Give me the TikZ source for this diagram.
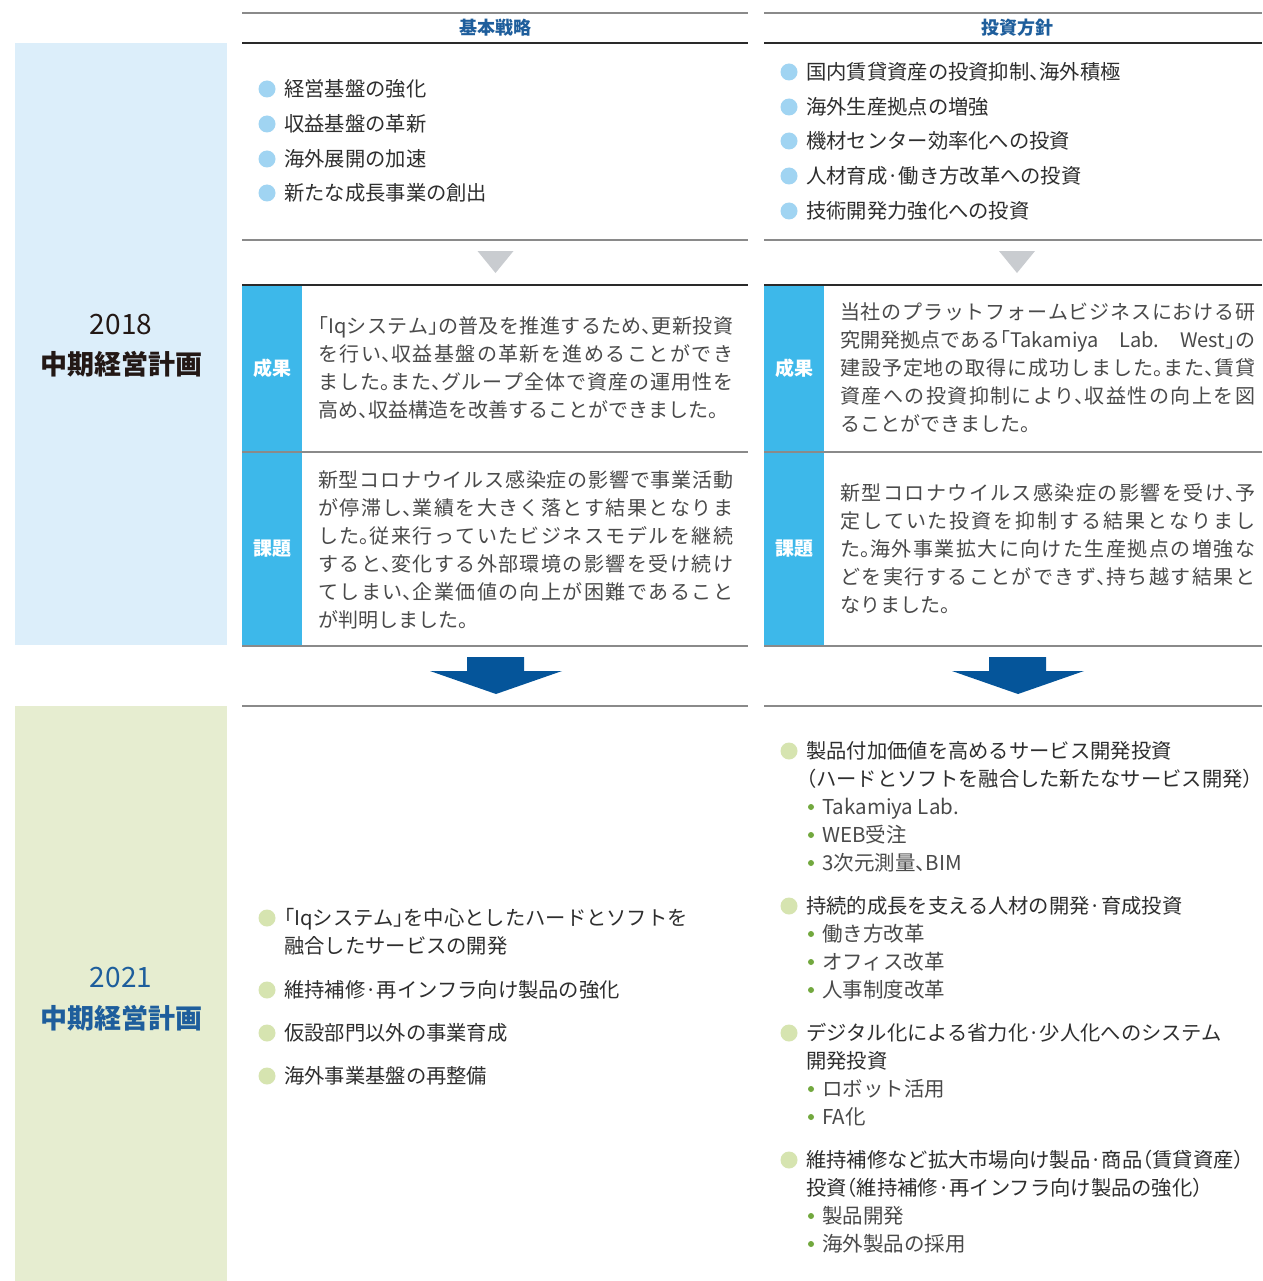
\documentclass[tikz,border=0pt]{standalone}
\usepackage{fontspec}
\setmainfont{Noto Sans CJK JP}
\newfontfamily\halffont{Noto Sans CJK JP}[RawFeature=+halt]
\newcommand\hp[1]{{\halffont #1}}
\setlength{\parindent}{0pt}
\XeTeXlinebreaklocale "ja"
\XeTeXlinebreakskip=0pt plus 4pt minus 0.4pt
\definecolor{hdrblue}{HTML}{1E5E9C}
\definecolor{arrowblue}{HTML}{05559A}
\definecolor{cyanbox}{HTML}{3DB8EA}
\definecolor{dotblue}{HTML}{A0D4F2}
\definecolor{dotgreen}{HTML}{D6E4B0}
\definecolor{subdot}{HTML}{72A83E}
\definecolor{panelblue}{HTML}{DCEEFA}
\definecolor{panelgreen}{HTML}{E6EDD0}
\definecolor{linegray}{HTML}{8A8A8A}
\definecolor{linedark}{HTML}{2A2A2A}
\definecolor{trigray}{HTML}{C9CCD0}
\definecolor{itemtxt}{HTML}{2E2E2E}
\definecolor{paratxt}{HTML}{4A4A4A}
\definecolor{titletxt}{HTML}{231815}
\tikzset{
  hdr/.style={font=\fontsize{18}{20}\selectfont\bfseries, text=hdrblue, inner sep=0pt},
  item/.style={anchor=base west, inner sep=0pt, font=\fontsize{20.3}{28}\selectfont, text=itemtxt},
  subitem/.style={anchor=base west, inner sep=0pt, font=\fontsize{20.5}{28}\selectfont, text=paratxt},
  para/.style={anchor=base west, inner sep=0pt, text width=415pt, align=justify,
    font=\fontsize{20}{28}\selectfont, text=paratxt},
  lbl/.style={font=\fontsize{19}{20}\selectfont\bfseries, text=white, inner sep=0pt},
  bdot/.style={circle, fill=dotblue, draw=none, minimum size=17pt, inner sep=0pt},
  gdot/.style={circle, fill=dotgreen, draw=none, minimum size=17pt, inner sep=0pt},
  sdot/.style={circle, fill=subdot, draw=none, minimum size=6pt, inner sep=0pt},
  gline/.style={draw=linegray, line width=1.2pt},
  dline/.style={draw=linedark, line width=1.2pt},
  year/.style={font=\fontsize{28}{30}\selectfont, inner sep=0pt},
  plan/.style={font=\fontsize{27}{30}\selectfont\bfseries, inner sep=0pt},
}
\begin{document}
\begin{tikzpicture}[x=1pt,y=-1pt]
\useasboundingbox (0,0) rectangle (1262,1281);
\fill[white] (0,0) rectangle (1262,1281);
% left panels
\fill[panelblue] (15,43) rectangle (227,645);
\fill[panelgreen] (15,706) rectangle (227,1281);
\node[year, text=titletxt] (y18) at (121,325) {2018};
\node[plan, text=titletxt] (p18) at (121,364) {中期経営計画};
\node[year, text=hdrblue] (y21) at (121,978) {2021};
\node[plan, text=hdrblue] (p21) at (121,1018) {中期経営計画};
% header lines
\draw[gline] (242,13) -- (748,13);
\draw[gline] (764,13) -- (1262,13);
\draw[dline] (242,43) -- (748,43);
\draw[dline] (764,43) -- (1262,43);
\node[hdr] (h1) at (495,28) {基本戦略};
\node[hdr] (h2) at (1017,28) {投資方針};
% upper lists
\node[bdot] (a1) at (267,89) {};
\node[bdot] (a2) at (267,124) {};
\node[bdot] (a3) at (267,159) {};
\node[bdot] (a4) at (267,193) {};
\node[item] (at1) at (284,96.6) {経営基盤の強化};
\node[item] (at2) at (284,131.6) {収益基盤の革新};
\node[item] (at3) at (284,166.6) {海外展開の加速};
\node[item] (at4) at (284,200.6) {新たな成長事業の創出};
\node[bdot] (b1) at (789,72) {};
\node[bdot] (b2) at (789,107) {};
\node[bdot] (b3) at (789,141) {};
\node[bdot] (b4) at (789,176) {};
\node[bdot] (b5) at (789,211) {};
\node[item] (bt1) at (806,79.6) {国内賃貸資産の投資抑制\hp{、}海外積極};
\node[item] (bt2) at (806,114.6) {海外生産拠点の増強};
\node[item] (bt3) at (806,148.6) {機材センター効率化への投資};
\node[item] (bt4) at (806,183.6) {人材育成·働き方改革への投資};
\node[item] (bt5) at (806,218.6) {技術開発力強化への投資};
% separators and gray triangles
\draw[gline] (242,240) -- (748,240);
\draw[gline] (764,240) -- (1262,240);
\fill[trigray] (477.5,251) -- (513.5,251) -- (495.5,273) -- cycle;
\fill[trigray] (999,251) -- (1035,251) -- (1017,273) -- cycle;
% label boxes
\fill[cyanbox] (242,285) rectangle (302,646);
\fill[cyanbox] (764,285) rectangle (824,646);
\draw[dline] (242,285) -- (748,285);
\draw[dline] (764,285) -- (1262,285);
\draw[gline] (242,452) -- (748,452);
\draw[gline] (764,452) -- (1262,452);
\draw[gline] (242,646) -- (748,646);
\draw[gline] (764,646) -- (1262,646);
\node[lbl] (l1) at (272,368) {成果};
\node[lbl] (l2) at (272,549) {課題};
\node[lbl] (l3) at (794,368) {成果};
\node[lbl] (l4) at (794,549) {課題};
% paragraphs
\node[para] (t1) at (318,333.6) {\hp{「}Iqシステム\hp{」}の普及を推進するため\hp{、}更新投資\linebreak を行い\hp{、}収益基盤の革新を進めることができ\linebreak ました\hp{。}また\hp{、}グループ全体で資産の運用性を\linebreak 高め\hp{、}収益構造を改善することができました\hp{。}};
\node[para] (t2) at (318,487.6) {新型コロナウイルス感染症の影響で事業活動\linebreak が停滞し\hp{、}業績を大きく落とす結果となりま\linebreak した\hp{。}従来行っていたビジネスモデルを継続\linebreak すると\hp{、}変化する外部環境の影響を受け続け\linebreak てしまい\hp{、}企業価値の向上が困難であること\linebreak が判明しました\hp{。}};
\node[para] (t3) at (840,319.6) {当社のプラットフォームビジネスにおける研\linebreak \mbox{究開発拠点である\hp{「}}Takamiya Lab.\ West\mbox{\hp{」}の}\linebreak 建設予定地の取得に成功しました\hp{。}また\hp{、}賃貸\linebreak 資産への投資抑制により\hp{、}収益性の向上を図\linebreak ることができました\hp{。}};
\node[para] (t4) at (840,500.6) {新型コロナウイルス感染症の影響を受け\hp{、}予\linebreak 定していた投資を抑制する結果となりまし\linebreak た\hp{。}海外事業拡大に向けた生産拠点の増強な\linebreak どを実行することができず\hp{、}持ち越す結果と\linebreak なりました\hp{。}};
% blue arrows
\fill[arrowblue] (467,657) -- (524,657) -- (524,671) -- (562,671) -- (496,694) -- (430,671) -- (467,671) -- cycle;
\fill[arrowblue] (989,657) -- (1046,657) -- (1046,671) -- (1084,671) -- (1018,694) -- (952,671) -- (989,671) -- cycle;
\draw[gline] (242,706) -- (748,706);
\draw[gline] (764,706) -- (1262,706);
% lower left list
\node[gdot] (c1) at (267,918) {};
\node[gdot] (c2) at (267,990) {};
\node[gdot] (c3) at (267,1033) {};
\node[gdot] (c4) at (267,1076) {};
\node[item] (ct1) at (284,925.6) {\hp{「}Iqシステム\hp{」}を中心としたハードとソフトを};
\node[item] (ct1b) at (284,953.6) {融合したサービスの開発};
\node[item] (ct2) at (284,997.6) {維持補修·再インフラ向け製品の強化};
\node[item] (ct3) at (284,1040.6) {仮設部門以外の事業育成};
\node[item] (ct4) at (284,1083.6) {海外事業基盤の再整備};
% lower right list
\node[gdot] (d1) at (789,751) {};
\node[item] (dt1) at (806,758.6) {製品付加価値を高めるサービス開発投資};
\node[item] (dt1b) at (806,786.6) {\hp{（}ハードとソフトを融合した新たなサービス開発\hp{）}};
\node[sdot] (s11) at (811,807) {};
\node[subitem] (st11) at (822,814.6) {Takamiya Lab.};
\node[sdot] (s12) at (811,835) {};
\node[subitem] (st12) at (822,842.6) {WEB受注};
\node[sdot] (s13) at (811,863) {};
\node[subitem] (st13) at (822,870.6) {3次元測量\hp{、}BIM};
\node[gdot] (d2) at (789,906) {};
\node[item] (dt2) at (806,913.6) {持続的成長を支える人材の開発·育成投資};
\node[sdot] (s21) at (811,934) {};
\node[subitem] (st21) at (822,941.6) {働き方改革};
\node[sdot] (s22) at (811,962) {};
\node[subitem] (st22) at (822,969.6) {オフィス改革};
\node[sdot] (s23) at (811,990) {};
\node[subitem] (st23) at (822,997.6) {人事制度改革};
\node[gdot] (d3) at (789,1033) {};
\node[item] (dt3) at (806,1040.6) {デジタル化による省力化·少人化へのシステム};
\node[item] (dt3b) at (806,1068.6) {開発投資};
\node[sdot] (s31) at (811,1089) {};
\node[subitem] (st31) at (822,1096.6) {ロボット活用};
\node[sdot] (s32) at (811,1117) {};
\node[subitem] (st32) at (822,1124.6) {FA化};
\node[gdot] (d4) at (789,1160) {};
\node[item] (dt4) at (806,1167.6) {維持補修など拡大市場向け製品·商品\hp{（}賃貸資産\hp{）}};
\node[item] (dt4b) at (806,1195.6) {投資\hp{（}維持補修·再インフラ向け製品の強化\hp{）}};
\node[sdot] (s41) at (811,1216) {};
\node[subitem] (st41) at (822,1223.6) {製品開発};
\node[sdot] (s42) at (811,1244) {};
\node[subitem] (st42) at (822,1251.6) {海外製品の採用};
\end{tikzpicture}
\end{document}
